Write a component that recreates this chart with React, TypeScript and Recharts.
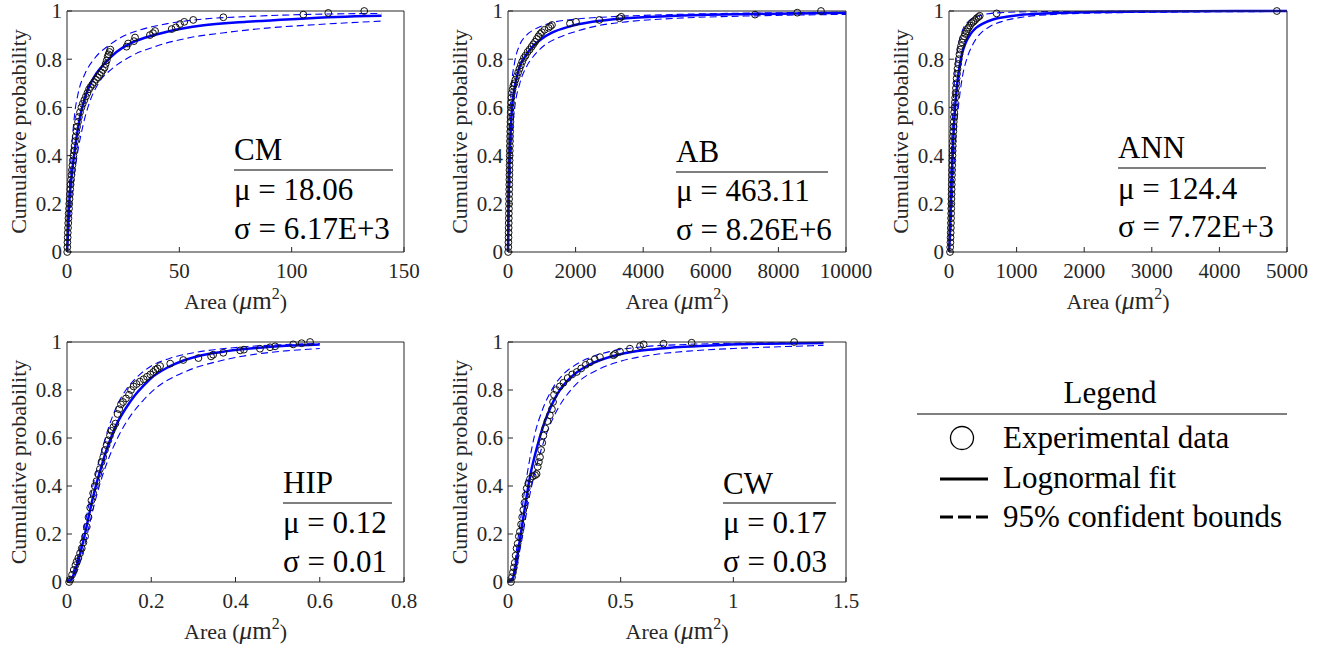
import React from "react";
import { ComposedChart, Scatter, Line, XAxis, YAxis } from "recharts";

// Five lognormal CDF panels (MATLAB-style), drawn as separate small charts.
// Values below: [x, cumulative prob].

type Pair = [number, number];

const FONT = "Liberation Serif, Times New Roman, DejaVu Serif, serif";
const AXIS = "#262626";
const BLUE = "#0000ff";

const probTicks = [0, 0.2, 0.4, 0.6, 0.8, 1];

// --- CM ---
const cmTicks = [0, 50, 100, 150];
const cmData: Pair[] = [
  [0.1, 0], [0.15, 0.02], [0.2, 0.04], [0.3, 0.06], [0.35, 0.08], [0.45, 0.1], [0.55, 0.12],
  [0.65, 0.14], [0.75, 0.16], [0.9, 0.18], [1.0, 0.2], [1.15, 0.22], [1.3, 0.24], [1.45, 0.26],
  [1.6, 0.28], [1.8, 0.3], [2.0, 0.32], [2.2, 0.34], [2.4, 0.36], [2.6, 0.38], [2.85, 0.4],
  [3.1, 0.42], [3.35, 0.44], [3.6, 0.46], [3.9, 0.48], [4.2, 0.5], [4.5, 0.52], [4.9, 0.54],
  [5.3, 0.56], [5.8, 0.58], [6.4, 0.6], [7.0, 0.615], [7.7, 0.63], [8.4, 0.645], [9.1, 0.66],
  [9.8, 0.675], [10.5, 0.685], [11.3, 0.695], [12.1, 0.705], [12.9, 0.715], [13.7, 0.725],
  [14.5, 0.735], [15.3, 0.745], [16.0, 0.755], [16.7, 0.765], [17.2, 0.78], [17.7, 0.795],
  [18.1, 0.81], [18.5, 0.82], [18.9, 0.83], [19.3, 0.84], [26.5, 0.852], [27.2, 0.865],
  [29.8, 0.875], [30.3, 0.89], [36.9, 0.9], [38.3, 0.908], [39.2, 0.917], [46.6, 0.925],
  [48.4, 0.932], [50.3, 0.946], [52.2, 0.955], [56.2, 0.963], [69.6, 0.974], [105.2, 0.985],
  [116.3, 0.992], [132.3, 1.0],
];
const cmFit: Pair[] = [
  [0, 0], [0.3, 0.05], [0.7, 0.15], [1.2, 0.23], [2, 0.31], [3, 0.39], [4, 0.46], [6, 0.57],
  [8, 0.64], [10, 0.69], [13, 0.74], [17, 0.785], [22, 0.83], [28, 0.865], [35, 0.89],
  [45, 0.915], [60, 0.94], [80, 0.955], [100, 0.966], [120, 0.975], [140, 0.98],
];
const cmUpper: Pair[] = [
  [0, 0], [0.5, 0.15], [1, 0.26], [2, 0.42], [3.5, 0.58], [5, 0.66], [8, 0.74], [12, 0.8],
  [19, 0.86], [25, 0.895], [32, 0.92], [45, 0.948], [60, 0.966], [80, 0.977], [100, 0.984],
  [120, 0.988], [140, 0.99],
];
const cmLower: Pair[] = [
  [0, 0], [1, 0.12], [2, 0.22], [4, 0.37], [7, 0.52], [10, 0.62], [14, 0.7], [20, 0.76],
  [28, 0.81], [40, 0.855], [55, 0.89], [70, 0.91], [90, 0.93], [110, 0.943], [140, 0.958],
];

// --- AB ---
const abTicks = [0, 2000, 4000, 6000, 8000, 10000];
const abData: Pair[] = [
  [5, 0], [10, 0.02], [13, 0.04], [16, 0.06], [18, 0.08], [20, 0.1], [22, 0.12], [24, 0.14],
  [26, 0.16], [28, 0.18], [30, 0.2], [32, 0.22], [34, 0.24], [36, 0.26], [38, 0.28], [40, 0.3],
  [42, 0.32], [44, 0.34], [46, 0.36], [48, 0.38], [50, 0.4], [53, 0.42], [56, 0.44], [59, 0.46],
  [62, 0.48], [65, 0.5], [68, 0.52], [72, 0.54], [76, 0.56], [80, 0.58], [85, 0.6], [90, 0.62],
  [100, 0.64], [115, 0.66], [135, 0.675], [160, 0.69], [190, 0.7], [220, 0.715], [260, 0.73],
  [300, 0.745], [340, 0.76], [380, 0.775], [420, 0.79], [470, 0.805], [520, 0.815], [580, 0.83],
  [640, 0.84], [700, 0.852], [750, 0.862], [800, 0.872], [850, 0.884], [900, 0.895],
  [950, 0.905], [1000, 0.912], [1080, 0.922], [1200, 0.93], [1250, 0.936], [1300, 0.942],
  [1834, 0.948], [2012, 0.955], [2702, 0.963], [3300, 0.97], [3350, 0.976], [7308, 0.985],
  [8559, 0.993], [9260, 1.0],
];
const abFit: Pair[] = [
  [0, 0], [5, 0.05], [15, 0.2], [30, 0.3], [50, 0.4], [80, 0.5], [120, 0.6], [180, 0.67],
  [250, 0.72], [350, 0.77], [500, 0.81], [750, 0.855], [1000, 0.885], [1300, 0.91],
  [1800, 0.935], [2500, 0.955], [3500, 0.97], [5000, 0.98], [7000, 0.987], [10000, 0.993],
];
const abUpper: Pair[] = [
  [0, 0], [10, 0.25], [40, 0.5], [100, 0.68], [200, 0.79], [350, 0.86], [550, 0.9],
  [800, 0.925], [1200, 0.948], [2000, 0.966], [3000, 0.976], [4500, 0.984], [6500, 0.99],
  [10000, 0.995],
];
const abLower: Pair[] = [
  [0, 0], [20, 0.1], [60, 0.3], [120, 0.48], [200, 0.6], [350, 0.7], [550, 0.77], [800, 0.82],
  [1100, 0.86], [1500, 0.89], [2000, 0.915], [2700, 0.94], [3500, 0.955], [5000, 0.97],
  [7000, 0.979], [10000, 0.986],
];

// --- ANN ---
const annTicks = [0, 1000, 2000, 3000, 4000, 5000];
const annData: Pair[] = [
  [15, 0], [18, 0.02], [21, 0.04], [23, 0.06], [25, 0.08], [27, 0.1], [29, 0.12], [30, 0.14],
  [32, 0.16], [33, 0.18], [35, 0.2], [36, 0.22], [38, 0.24], [39, 0.26], [41, 0.28], [42, 0.3],
  [44, 0.32], [46, 0.34], [48, 0.36], [50, 0.38], [52, 0.4], [54, 0.42], [56, 0.44], [58, 0.46],
  [61, 0.48], [64, 0.5], [67, 0.52], [70, 0.54], [73, 0.56], [77, 0.58], [81, 0.6], [86, 0.62],
  [91, 0.64], [97, 0.66], [103, 0.68], [108, 0.7], [113, 0.72], [119, 0.74], [126, 0.76],
  [135, 0.78], [145, 0.8], [155, 0.82], [165, 0.84], [178, 0.855], [192, 0.87], [208, 0.885],
  [225, 0.895], [240, 0.905], [258, 0.915], [275, 0.925], [292, 0.932], [311, 0.94],
  [335, 0.95], [360, 0.955], [385, 0.962], [410, 0.97], [435, 0.975], [455, 0.98], [705, 0.99],
  [4850, 1.0],
];
const annFit: Pair[] = [
  [0, 0], [10, 0.05], [25, 0.18], [40, 0.3], [60, 0.45], [85, 0.58], [115, 0.68], [150, 0.76],
  [190, 0.82], [250, 0.87], [320, 0.905], [400, 0.93], [500, 0.948], [650, 0.965], [850, 0.976],
  [1100, 0.985], [1500, 0.991], [2000, 0.995], [3000, 0.998], [5000, 1.0],
];
const annUpper: Pair[] = [
  [0, 0], [10, 0.1], [25, 0.3], [45, 0.5], [70, 0.66], [100, 0.78], [140, 0.86], [200, 0.92],
  [300, 0.96], [450, 0.98], [700, 0.992], [1200, 0.997], [5000, 1.0],
];
const annLower: Pair[] = [
  [0, 0], [20, 0.05], [50, 0.22], [100, 0.48], [150, 0.63], [200, 0.73], [262, 0.8], [350, 0.86],
  [460, 0.905], [600, 0.935], [800, 0.958], [1100, 0.975], [1500, 0.985], [2500, 0.993],
  [5000, 0.998],
];

// --- HIP ---
const hipTicks = [0, 0.2, 0.4, 0.6, 0.8];
const hipData: Pair[] = [
  [0.005, 0], [0.008, 0.01], [0.012, 0.03], [0.016, 0.05], [0.02, 0.07], [0.023, 0.085],
  [0.027, 0.1], [0.031, 0.12], [0.035, 0.14], [0.039, 0.165], [0.043, 0.19], [0.047, 0.23],
  [0.051, 0.27], [0.055, 0.31], [0.058, 0.34], [0.062, 0.37], [0.066, 0.4], [0.07, 0.42],
  [0.074, 0.45], [0.078, 0.47], [0.082, 0.5], [0.086, 0.52], [0.09, 0.55], [0.094, 0.57],
  [0.098, 0.59], [0.102, 0.61], [0.106, 0.63], [0.11, 0.645], [0.115, 0.66], [0.12, 0.7],
  [0.124, 0.72], [0.128, 0.74], [0.133, 0.75], [0.14, 0.765], [0.147, 0.78], [0.152, 0.8],
  [0.158, 0.815], [0.165, 0.825], [0.173, 0.835], [0.182, 0.845], [0.19, 0.855], [0.198, 0.865],
  [0.205, 0.875], [0.21, 0.885], [0.215, 0.89], [0.221, 0.9], [0.245, 0.91], [0.276, 0.925],
  [0.312, 0.933], [0.342, 0.94], [0.347, 0.947], [0.371, 0.955], [0.411, 0.965], [0.42, 0.968],
  [0.458, 0.972], [0.482, 0.978], [0.494, 0.982], [0.537, 0.99], [0.557, 0.995], [0.577, 1.0],
];
const hipFit: Pair[] = [
  [0, 0], [0.01, 0.01], [0.02, 0.05], [0.03, 0.11], [0.04, 0.18], [0.05, 0.26], [0.06, 0.34],
  [0.07, 0.41], [0.08, 0.47], [0.09, 0.53], [0.1, 0.58], [0.12, 0.665], [0.14, 0.725],
  [0.16, 0.775], [0.18, 0.815], [0.2, 0.85], [0.24, 0.895], [0.28, 0.925], [0.32, 0.945],
  [0.38, 0.962], [0.45, 0.975], [0.52, 0.984], [0.6, 0.99],
];
const hipUpper: Pair[] = [
  [0, 0], [0.02, 0.07], [0.04, 0.22], [0.06, 0.39], [0.08, 0.53], [0.1, 0.65], [0.12, 0.74],
  [0.14, 0.8], [0.17, 0.86], [0.2, 0.9], [0.25, 0.935], [0.3, 0.955], [0.4, 0.977],
  [0.5, 0.988], [0.6, 0.994],
];
const hipLower: Pair[] = [
  [0, 0], [0.02, 0.03], [0.04, 0.14], [0.06, 0.29], [0.08, 0.42], [0.1, 0.52], [0.12, 0.6],
  [0.15, 0.69], [0.18, 0.755], [0.22, 0.82], [0.26, 0.86], [0.3, 0.89], [0.36, 0.92],
  [0.45, 0.95], [0.52, 0.963], [0.6, 0.973],
];

// --- CW ---
const cwTicks = [0, 0.5, 1, 1.5];
const cwData: Pair[] = [
  [0.013, 0], [0.018, 0.02], [0.022, 0.04], [0.026, 0.06], [0.03, 0.08], [0.034, 0.11],
  [0.038, 0.14], [0.043, 0.16], [0.048, 0.19], [0.053, 0.21], [0.058, 0.24], [0.063, 0.27],
  [0.068, 0.3], [0.073, 0.33], [0.078, 0.36], [0.083, 0.39], [0.09, 0.41], [0.098, 0.43],
  [0.11, 0.44], [0.12, 0.445], [0.127, 0.45], [0.132, 0.48], [0.137, 0.5], [0.142, 0.52],
  [0.147, 0.55], [0.152, 0.58], [0.157, 0.61], [0.165, 0.64], [0.175, 0.67], [0.186, 0.695],
  [0.195, 0.72], [0.2, 0.75], [0.204, 0.78], [0.215, 0.8], [0.23, 0.815], [0.246, 0.83],
  [0.265, 0.85], [0.285, 0.865], [0.305, 0.875], [0.325, 0.89], [0.345, 0.905], [0.364, 0.915],
  [0.385, 0.928], [0.408, 0.937], [0.468, 0.945], [0.475, 0.95], [0.497, 0.96], [0.541, 0.972],
  [0.586, 0.983], [0.602, 0.99], [0.69, 0.993], [0.815, 0.997], [1.27, 1.0],
];
const cwFit: Pair[] = [
  [0, 0], [0.02, 0.01], [0.03, 0.05], [0.04, 0.1], [0.05, 0.16], [0.06, 0.22], [0.07, 0.28],
  [0.08, 0.34], [0.1, 0.45], [0.12, 0.53], [0.14, 0.6], [0.16, 0.66], [0.19, 0.73],
  [0.22, 0.785], [0.26, 0.835], [0.3, 0.87], [0.35, 0.9], [0.41, 0.925], [0.48, 0.945],
  [0.56, 0.96], [0.65, 0.97], [0.78, 0.98], [0.95, 0.988], [1.15, 0.993], [1.4, 0.996],
];
const cwUpper: Pair[] = [
  [0, 0], [0.02, 0.02], [0.04, 0.15], [0.06, 0.29], [0.08, 0.42], [0.1, 0.53], [0.12, 0.62],
  [0.15, 0.71], [0.2, 0.81], [0.25, 0.87], [0.3, 0.905], [0.35, 0.93], [0.45, 0.96],
  [0.6, 0.98], [0.8, 0.99], [1.0, 0.995], [1.4, 0.998],
];
const cwLower: Pair[] = [
  [0, 0], [0.03, 0.03], [0.05, 0.12], [0.07, 0.22], [0.09, 0.33], [0.12, 0.46], [0.15, 0.56],
  [0.18, 0.64], [0.22, 0.72], [0.27, 0.79], [0.32, 0.84], [0.4, 0.885], [0.5, 0.92],
  [0.63, 0.945], [0.8, 0.962], [1.0, 0.973], [1.2, 0.98], [1.4, 0.986],
];

// annotation text
const panelNames = ["CM", "AB", "ANN", "HIP", "CW"];
const muLabels = ["μ = 18.06", "μ = 463.11", "μ = 124.4", "μ = 0.12", "μ = 0.17"];
const sigmaLabels = ["σ = 6.17E+3", "σ = 8.26E+6", "σ = 7.72E+3", "σ = 0.01", "σ = 0.03"];
const legendLabels = ["Experimental data", "Lognormal fit", "95% confident bounds"];

const toPts = (a: Pair[]) => a.map(([x, y]) => ({ x, y }));

const OpenCircle = (props: any) => (
  <circle cx={props.cx} cy={props.cy} r={3.4} fill="none" stroke="#111" strokeWidth={1} />
);

interface PanelSpec {
  left: number;
  top: number;
  w: number;
  h: number;
  xMax: number;
  xTicks: number[];
  data: Pair[];
  fit: Pair[];
  upper: Pair[];
  lower: Pair[];
}

// plot-area boxes in page pixels
const panels: PanelSpec[] = [
  { left: 67, top: 11, w: 337, h: 241, xMax: 150, xTicks: cmTicks, data: cmData, fit: cmFit, upper: cmUpper, lower: cmLower },
  { left: 508, top: 11, w: 338, h: 241, xMax: 10000, xTicks: abTicks, data: abData, fit: abFit, upper: abUpper, lower: abLower },
  { left: 949, top: 11, w: 338, h: 241, xMax: 5000, xTicks: annTicks, data: annData, fit: annFit, upper: annUpper, lower: annLower },
  { left: 67, top: 342, w: 337, h: 240, xMax: 0.8, xTicks: hipTicks, data: hipData, fit: hipFit, upper: hipUpper, lower: hipLower },
  { left: 508, top: 342, w: 338, h: 240, xMax: 1.5, xTicks: cwTicks, data: cwData, fit: cwFit, upper: cwUpper, lower: cwLower },
];

const annot = [
  { x: 234, nameY: 160, ruleY: 170, ruleEnd: 393, muY: 200, sigmaY: 239 },
  { x: 676, nameY: 162, ruleY: 172, ruleEnd: 828, muY: 201, sigmaY: 240 },
  { x: 1118, nameY: 158, ruleY: 168, ruleEnd: 1266, muY: 199, sigmaY: 237 },
  { x: 283, nameY: 493, ruleY: 503, ruleEnd: 392, muY: 533, sigmaY: 572 },
  { x: 723, nameY: 494, ruleY: 503, ruleEnd: 836, muY: 533, sigmaY: 572 },
];

const LEFT = 90; // left y-axis band
const MTOP = 10; // chart margin above the top mirror axis
const TOP = 10; // top mirror axis band
const RIGHT = 20; // right mirror axis band
const MRIGHT = 30; // room for the last x tick label
const BOTTOM = 70;

function Panel({ p }: { p: PanelSpec }) {
  const W = LEFT + p.w + RIGHT + MRIGHT;
  const H = MTOP + TOP + p.h + BOTTOM;
  const top0 = MTOP + TOP;
  const tickStyle = { fill: AXIS, fontSize: 21, fontFamily: FONT };

  // LaTeX-ish "Area (\mu m^2)": the math part is set a bit larger
  const xLabel = () => (
    <text x={LEFT + p.w / 2} y={top0 + p.h + 57} textAnchor="middle" fontFamily={FONT} fontSize={22} fill={AXIS}>
      Area (<tspan fontStyle="italic" fontSize={25}>μ</tspan>
      <tspan fontSize={25}>m</tspan>
      <tspan dy={-10} fontSize={16}>2</tspan>
      <tspan dy={10}>)</tspan>
    </text>
  );
  const yLabel = () => (
    <text
      x={LEFT - 41}
      y={top0 + p.h / 2}
      transform={`rotate(-90, ${LEFT - 41}, ${top0 + p.h / 2})`}
      textAnchor="middle"
      fontFamily={FONT}
      fontSize={22}
      fill={AXIS}
    >
      Cumulative probability
    </text>
  );

  return (
    <div style={{ position: "absolute", left: p.left - LEFT, top: p.top - top0 }}>
      <ComposedChart width={W} height={H} margin={{ top: MTOP, right: MRIGHT, bottom: 0, left: 0 }}>
        <XAxis
          type="number"
          dataKey="x"
          domain={[0, p.xMax]}
          ticks={p.xTicks}
          interval={0}
          height={BOTTOM}
          stroke={AXIS}
          tickSize={-5}
          tickMargin={16}
          tick={tickStyle}
          label={xLabel}
        />
        <XAxis
          xAxisId="top"
          orientation="top"
          type="number"
          domain={[0, p.xMax]}
          ticks={p.xTicks}
          interval={0}
          allowDataOverflow
          height={TOP}
          stroke={AXIS}
          tickSize={-5}
          tick={false}
        />
        <YAxis
          type="number"
          dataKey="y"
          domain={[0, 1]}
          ticks={probTicks}
          interval={0}
          width={LEFT}
          stroke={AXIS}
          tickSize={-5}
          tickMargin={10}
          tick={tickStyle}
          label={yLabel}
        />
        <YAxis
          yAxisId="right"
          orientation="right"
          type="number"
          domain={[0, 1]}
          ticks={probTicks}
          interval={0}
          allowDataOverflow
          width={RIGHT}
          stroke={AXIS}
          tickSize={-5}
          tick={false}
        />
        <Scatter data={toPts(p.data)} dataKey="y" shape={OpenCircle} isAnimationActive={false} />
        <Line data={toPts(p.upper)} dataKey="y" type="monotone" stroke={BLUE} strokeWidth={1.1} strokeDasharray="7 4" dot={false} isAnimationActive={false} />
        <Line data={toPts(p.lower)} dataKey="y" type="monotone" stroke={BLUE} strokeWidth={1.1} strokeDasharray="7 4" dot={false} isAnimationActive={false} />
        <Line data={toPts(p.fit)} dataKey="y" type="monotone" stroke={BLUE} strokeWidth={2.5} dot={false} isAnimationActive={false} />
      </ComposedChart>
    </div>
  );
}

export default function App() {
  return (
    <div style={{ position: "absolute", left: 0, top: 0, width: 1320, height: 653, background: "#fff", overflow: "hidden" }}>
      {panels.map((p, i) => (
        <Panel key={i} p={p} />
      ))}
      <svg width={1320} height={653} style={{ position: "absolute", left: 0, top: 0, pointerEvents: "none" }}>
        {annot.map((a, i) => (
          <g key={i} fontFamily={FONT} fontSize={31} fill="#000">
            <text x={a.x} y={a.nameY}>{panelNames[i]}</text>
            <line x1={a.x} x2={a.ruleEnd} y1={a.ruleY} y2={a.ruleY} stroke="#000" strokeWidth={1.2} />
            <text x={a.x} y={a.muY}>{muLabels[i]}</text>
            <text x={a.x} y={a.sigmaY}>{sigmaLabels[i]}</text>
          </g>
        ))}
        <g fontFamily={FONT} fontSize={31} fill="#000">
          <text x={1110} y={403} textAnchor="middle">Legend</text>
          <line x1={917} x2={1287} y1={414} y2={414} stroke="#000" strokeWidth={1.2} />
          <circle cx={962} cy={438} r={11.5} fill="none" stroke="#000" strokeWidth={1.3} />
          <text x={1003} y={448}>{legendLabels[0]}</text>
          <line x1={940} x2={988} y1={479} y2={479} stroke="#000" strokeWidth={3} />
          <text x={1003} y={488}>{legendLabels[1]}</text>
          <line x1={940} x2={988} y1={517} y2={517} stroke="#000" strokeWidth={3} strokeDasharray="13 5" />
          <text x={1003} y={527}>{legendLabels[2]}</text>
        </g>
      </svg>
    </div>
  );
}
